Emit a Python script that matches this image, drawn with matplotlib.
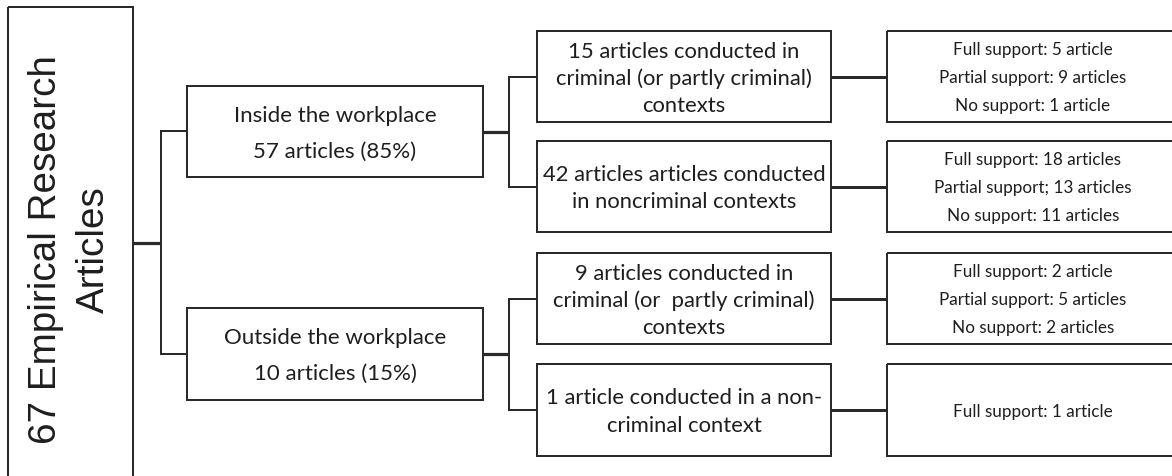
import matplotlib.pyplot as plt
from matplotlib.patches import Rectangle

# texts of the diagram
root_lines = ['67 Empirical Research', 'Articles']
level1_lines = [
    ['Inside the workplace', '57 articles (85%)'],
    ['Outside the workplace', '10 articles (15%)'],
]
level2_lines = [
    ['15 articles conducted in', 'criminal (or partly criminal)', 'contexts'],
    ['42 articles articles conducted', 'in noncriminal contexts'],
    ['9 articles conducted in', 'criminal (or  partly criminal)', 'contexts'],
    ['1 article conducted in a non-', 'criminal context'],
]
support_lines = [
    ['Full support: 5 article', 'Partial support: 9 articles', 'No support: 1 article'],
    ['Full support: 18 articles', 'Partial support; 13 articles', 'No support: 11 articles'],
    ['Full support: 2 article', 'Partial support: 5 articles', 'No support: 2 articles'],
    ['Full support: 1 article'],
]

W, H = 1172, 476
EDGE = '#2a2a2a'
TXT = '#1e1e1e'
BODY_FONT = ['Lato', 'DejaVu Sans']


def px(v):
    # pixel width -> points (dpi 100)
    return v * 0.72


def box(ax, x0, y0, x1, y1, lw=2.0):
    ax.add_patch(Rectangle((x0, y0), x1 - x0, y1 - y0, fill=False,
                           edgecolor=EDGE, linewidth=px(lw), joinstyle='miter'))


def line(ax, xs, ys, lw=2.0):
    ax.plot(xs, ys, color=EDGE, linewidth=px(lw), solid_capstyle='butt',
            solid_joinstyle='miter')


def put_lines(ax, lines, cx, cy, step, size):
    n = len(lines)
    for i, s in enumerate(lines):
        y = cy + (i - (n - 1) / 2) * step
        ax.text(cx, y, s, ha='center', va='center_baseline', fontsize=size,
                color=TXT, family=BODY_FONT)


fig = plt.figure(figsize=(W / 100, H / 100), dpi=100)
ax = fig.add_axes([0, 0, 1, 1])
ax.set_xlim(0, W)
ax.set_ylim(H, 0)
ax.axis('off')

# root box (runs off the bottom of the picture)
box(ax, 8, 7, 133, 500)
for i, s in enumerate(root_lines):
    ax.text(46 + i * 48, 250, s, rotation=90, ha='center', va='center',
            fontsize=27.8, color=TXT, family=['Liberation Sans', 'DejaVu Sans'])

# root -> level 1
line(ax, [133, 161], [243, 243], lw=3.2)
line(ax, [187, 161, 161, 187], [131, 131, 354, 354], lw=2.0)

l1_y = [(86, 177), (308, 400)]
for (y0, y1), lines in zip(l1_y, level1_lines):
    box(ax, 187, y0, 483, y1)
    put_lines(ax, lines, 335, (y0 + y1) / 2, 36, 16)

# level 1 -> level 2
l2_y = [(31, 122), (141, 232), (253, 344), (364, 456)]
for k in range(2):
    cy = (l1_y[k][0] + l1_y[k][1]) / 2
    top = (l2_y[2 * k][0] + l2_y[2 * k][1]) / 2
    bot = (l2_y[2 * k + 1][0] + l2_y[2 * k + 1][1]) / 2
    line(ax, [483, 509], [cy, cy], lw=3.2)
    line(ax, [537, 509, 509, 537], [top, top, bot, bot], lw=2.0)

for (y0, y1), lines, sup in zip(l2_y, level2_lines, support_lines):
    cy = (y0 + y1) / 2
    box(ax, 537, y0, 831, y1)
    put_lines(ax, lines, 684, cy, 27, 15.8)
    line(ax, [831, 887], [cy, cy], lw=3.0)
    box(ax, 887, y0, 1180, y1)
    put_lines(ax, sup, 1033, cy, 28, 12.3)

fig.savefig('out.png', dpi=100, facecolor='white')
